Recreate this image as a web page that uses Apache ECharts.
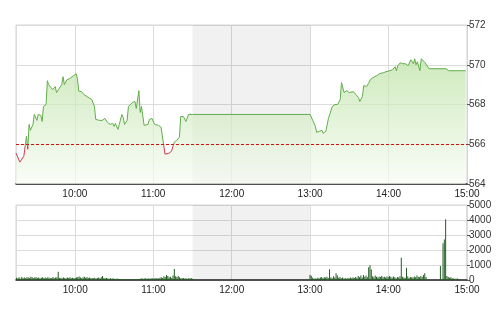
<!DOCTYPE html>
<html><head><meta charset="utf-8">
<script src="https://cdn.jsdelivr.net/npm/echarts@6/dist/echarts.min.js"></script>
<style>html,body{margin:0;padding:0;background:#fff}#c{width:500px;height:312px}</style>
</head><body><div id="c"></div>
<script>
const prevClose = 566;
const priceTimes = ['9:15','9:18','9:21','9:23','9:24','9:25','9:26','9:28','9:29','9:31','9:32','9:34','9:35','9:36','9:38','9:39','9:40','9:41','9:43','9:45','9:46','9:48','9:49','9:50','9:51','9:52','9:54','9:56','9:57','9:59',
'10:01','10:02','10:03','10:05','10:07','10:08','10:11','10:13','10:15','10:16','10:19','10:21','10:23','10:25','10:27','10:29','10:30','10:31','10:33','10:34','10:36','10:37','10:38','10:40','10:41','10:44','10:46','10:47','10:49','10:50','10:51','10:53','10:54','10:56','10:57','10:59',
'11:01','11:04','11:06','11:07','11:09','11:10','11:12','11:14','11:16','11:18','11:20','11:21','11:23','11:24','11:25','11:27','11:30',
'13:00','13:02','13:04','13:05','13:07','13:09','13:10','13:12','13:14','13:15','13:17','13:19','13:21','13:22','13:23','13:24','13:26','13:28','13:30','13:33','13:35','13:37','13:38','13:40','13:41','13:43','13:45','13:46','13:48','13:51','13:53','13:56','13:58',
'14:01','14:03','14:05','14:06','14:07','14:09','14:11','14:13','14:14','14:15','14:17','14:19','14:20','14:21','14:22','14:24','14:25','14:26','14:28','14:29','14:31','14:44','14:46','14:59'];
const priceValues = [565.55,565.1,565.4,566.4,565.75,567.0,566.7,567.0,567.5,567.2,567.5,567.45,567.15,567.9,568.0,569.2,569.0,569.1,568.75,568.9,568.6,568.8,568.7,569.0,569.4,569.0,569.25,569.3,569.4,569.45,
569.55,569.3,568.67,568.65,568.5,568.45,568.33,568.25,567.9,567.25,567.2,567.2,567.3,567.1,567.0,567.05,566.9,567.05,566.75,567.0,567.5,567.35,567.0,567.2,567.9,568.1,568.15,567.8,568.7,567.6,567.9,566.95,567.05,567.0,567.25,567.3,
567.0,566.95,566.85,566.75,565.5,565.4,565.55,565.65,566.1,566.2,566.35,567.4,567.4,567.45,567.15,567.5,567.5,
567.5,567.2,566.9,566.6,566.65,566.7,566.55,566.65,567.3,567.5,567.9,568.0,568.0,568.05,568.25,569.1,568.6,568.7,568.6,568.65,568.5,568.35,568.15,568.4,568.95,568.9,569.1,569.25,569.35,569.45,569.55,569.6,569.65,
569.7,569.75,569.9,569.7,569.95,570.1,570.05,570.05,570.1,569.95,570.25,570.05,570.3,570.0,570.15,569.7,570.3,570.25,570.1,570.0,569.8,569.8,569.7,569.7];

// volume per minute, morning session from 9:15, afternoon session from 13:00
const volMorningStart = '9:15';
const volMorning = [150,120,180,90,200,140,160,110,190,170,
130,210,180,120,160,200,140,170,110,150,
190,130,160,120,180,150,110,140,200,120,
160,180,550,130,150,120,170,140,110,160,
130,180,120,150,110,140,160,200,230,170,
120,180,220,150,200,130,160,110,140,120,
150,100,130,170,120,180,270,140,110,130,
100,90,120,80,110,90,70,100,80,60,
50,60,40,70,50,60,40,50,70,40,
50,60,40,50,70,90,110,80,100,120,
90,110,80,100,130,90,110,140,100,120,
150,180,130,250,200,330,260,180,220,140,
300,730,250,200,270,180,120,110,130,100,
120,90,110,100,130,80];
const volAfternoonStart = '13:00';
const volAfternoon = [330,280,150,90,120,80,150,110,170,200,
130,190,160,220,140,710,180,120,250,160,
450,300,150,200,120,160,100,140,90,130,
110,160,120,180,140,200,150,260,190,300,
170,330,220,300,180,850,980,700,250,190,
300,220,170,240,200,280,180,220,160,240,
190,270,210,150,230,180,120,200,160,250,
1490,220,170,150,820,250,130,200,180,160,
240,190,300,220,180,260,200,330,450,200,
0,0,0,0,0,0,0,0,0,0,
930,0,2450,2700,4050,260,200,150,180,120,
100,90,80,100,70,0,0,0,0,0,0];

const priceTicks = [564,566,568,570,572];
const volTicks = [0,1000,2000,3000,4000,5000];
const breakStart = '11:30', breakEnd = '13:00';
const axisStart = '9:15', axisEnd = '15:00';

function ts(hm){const p=hm.split(':');return Date.UTC(2024,0,2,+p[0],+p[1]);}
const MIN=60000;
const priceData = priceTimes.map((t,i)=>[ts(t),priceValues[i]]);
const volData = volMorning.map((v,i)=>[ts(volMorningStart)+i*MIN,v])
  .concat(volAfternoon.map((v,i)=>[ts(volAfternoonStart)+i*MIN,v]))
  .filter(d=>d[1]>0);

// line colour split at previous close, via gradient over the line's own value range
const pMax = Math.max(...priceValues), pMin = Math.min(...priceValues);
const splitOff = (pMax - prevClose) / (pMax - pMin);
const GREEN='#62ad4c', RED='#d23a4a';
const lineGrad = new echarts.graphic.LinearGradient(0,0,0,1,[
  {offset:0,color:GREEN},{offset:splitOff,color:GREEN},{offset:splitOff,color:RED},{offset:1,color:RED}]);

const font='Liberation Sans';
function xAxis(gi){
  return {type:'time',gridIndex:gi,min:ts(axisStart),max:ts(axisEnd),
    minInterval:3600000,maxInterval:3600000,
    axisLine:{lineStyle:{color:'#222',width:1.5}},
    axisTick:{show:false},
    axisLabel:{formatter:'{HH}:{mm}',showMinLabel:false,showMaxLabel:true,color:'#222',fontSize:10,fontFamily:font,margin:5,hideOverlap:false},
    splitLine:{show:true,lineStyle:{color:'#dcdcdc',width:1}}};
}
const chart = echarts.init(document.getElementById('c'),null,{renderer:'canvas'});
chart.setOption({
  useUTC:true,
  animation:false,
  grid:[
    {left:16,right:33,top:25,height:159,show:true,borderColor:'#d4d4d4',borderWidth:1},
    {left:16,right:33,top:205,height:75,show:true,borderColor:'#d4d4d4',borderWidth:1}
  ],
  xAxis:[xAxis(0),xAxis(1)],
  yAxis:[
    {type:'value',gridIndex:0,position:'right',min:priceTicks[0],max:priceTicks[priceTicks.length-1],interval:2,
     axisLine:{show:true,lineStyle:{color:'#d4d4d4'}},axisTick:{show:true,length:3,lineStyle:{color:'#555'}},
     axisLabel:{color:'#333',fontSize:10,fontFamily:font,margin:2},
     splitLine:{lineStyle:{color:'#dcdcdc'}}},
    {type:'value',gridIndex:1,position:'right',min:volTicks[0],max:volTicks[volTicks.length-1],interval:1000,
     axisLine:{show:false},axisTick:{show:true,length:3,lineStyle:{color:'#555'}},
     axisLabel:{color:'#333',fontSize:10,fontFamily:font,margin:2,formatter:v=>String(v)},
     splitLine:{lineStyle:{color:'#dcdcdc'}}}
  ],
  series:[
    {type:'line',xAxisIndex:0,yAxisIndex:0,data:priceData,symbol:'none',
     lineStyle:{width:1,color:lineGrad},
     areaStyle:{origin:'start',color:new echarts.graphic.LinearGradient(0,0,0,1,[{offset:0,color:'#b9e0a0'},{offset:1,color:'#f7fbf4'}])},
     markLine:{silent:true,symbol:'none',label:{show:false},
       lineStyle:{color:'#cc1111',type:[3,2],width:1},data:[{yAxis:prevClose}]},
     markArea:{silent:true,itemStyle:{color:'rgba(0,0,0,0.055)'},data:[[{xAxis:ts(breakStart)},{xAxis:ts(breakEnd)}]]}
    },
    {type:'bar',xAxisIndex:1,yAxisIndex:1,data:volData,barWidth:1,
     itemStyle:{color:'#225e22'},
     markArea:{silent:true,itemStyle:{color:'rgba(0,0,0,0.055)'},data:[[{xAxis:ts(breakStart)},{xAxis:ts(breakEnd)}]]}
    }
  ]
});
</script></body></html>
